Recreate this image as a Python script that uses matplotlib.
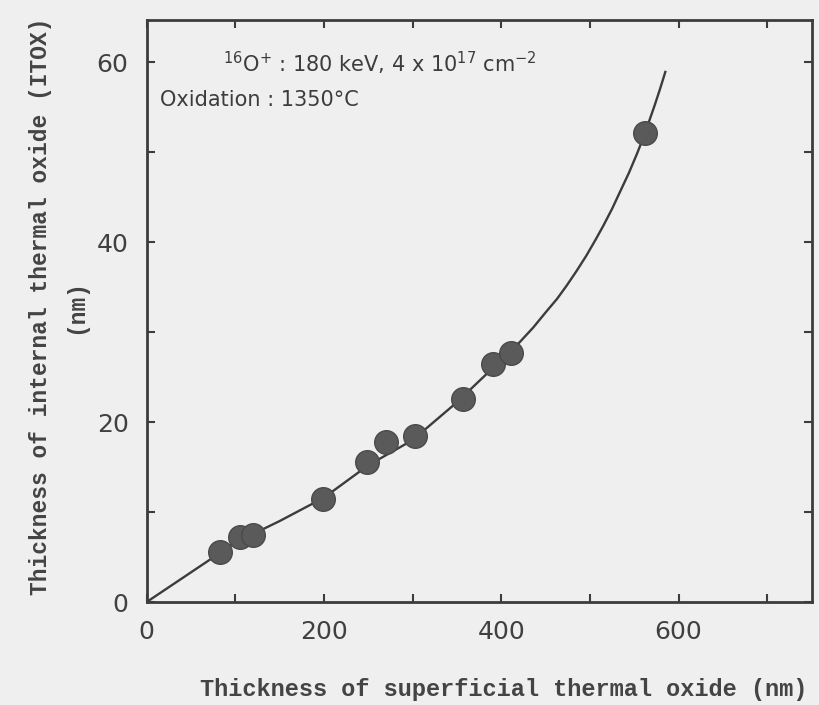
import matplotlib
matplotlib.use("Agg")
import matplotlib.pyplot as plt

# Measured data points (superficial oxide nm, internal oxide nm)
x_pts = [83, 105, 120, 199, 249, 270, 303, 357, 391, 411, 562]
y_pts = [5.6, 7.2, 7.5, 11.4, 15.6, 17.8, 18.5, 22.6, 26.5, 27.7, 52.1]

# Fitted curve
x_curve = [0, 50, 100, 150, 200, 250, 300, 350, 400, 421, 436, 451, 463, 474, 485,
           496, 506, 515, 525, 534, 544, 553, 561, 567, 573, 579, 585]
y_curve = [0, 3.3, 6.6, 9.0, 11.6, 15.2, 18.0, 22.2, 26.9, 28.9, 30.5, 32.3, 33.7, 35.2, 36.8,
           38.5, 40.2, 41.8, 43.7, 45.6, 47.7, 49.8, 51.8, 53.5, 55.2, 57.0, 58.9]

x_ticks = [0, 100, 200, 300, 400, 500, 600, 700]
x_labels = ["0", "", "200", "", "400", "", "600", ""]
y_ticks = [0, 10, 20, 30, 40, 50, 60]
y_labels = ["0", "", "20", "", "40", "", "60"]

bg = "#efefef"
ink = "#3c3c3c"

fig = plt.figure(figsize=(8.19, 7.05), dpi=100, facecolor=bg)
ax = fig.add_axes([0.179, 0.146, 0.812, 0.826])
ax.set_facecolor(bg)

ax.plot(x_curve, y_curve, color=ink, lw=1.7, zorder=2, solid_joinstyle='round')
ax.plot(x_pts, y_pts, 'o', ms=17, color="#5a5a5a", mec="#4a4a4a", zorder=3)

ax.set_xlim(0, 750)
ax.set_ylim(0, 64.7)
ax.set_xticks(x_ticks)
ax.set_xticklabels(x_labels)
ax.set_yticks(y_ticks)
ax.set_yticklabels(y_labels)
ax.tick_params(direction='in', length=6, width=1.5, colors=ink,
               top=True, right=True, labelsize=18, pad=13)
for lab in ax.get_xticklabels() + ax.get_yticklabels():
    lab.set_color("#404040")
for s in ax.spines.values():
    s.set_linewidth(2.0)
    s.set_color(ink)

ax.text(0.115, 0.925, r"$^{16}$O$^{+}$ : 180 keV, 4 x 10$^{17}$ cm$^{-2}$",
        transform=ax.transAxes, fontsize=15, color=ink, ha='left', va='center')
ax.text(0.02, 0.862, "Oxidation : 1350\u00b0C",
        transform=ax.transAxes, fontsize=15, color=ink, ha='left', va='center')

fig.text(0.615, 0.022, "Thickness of superficial thermal oxide (nm)",
         ha='center', va='center', fontsize=17, family="Liberation Mono",
         weight='bold', color="#444444")
fig.text(0.05, 0.565, "Thickness of internal thermal oxide (ITOX)",
         ha='center', va='center', rotation=90, fontsize=16.5,
         family="Liberation Mono", weight='bold', color="#444444")
fig.text(0.092, 0.565, "(nm)", ha='center', va='center', rotation=90,
         fontsize=16.5, family="Liberation Mono", weight='bold', color="#444444")

fig.savefig("out.png", dpi=100, facecolor=bg)
